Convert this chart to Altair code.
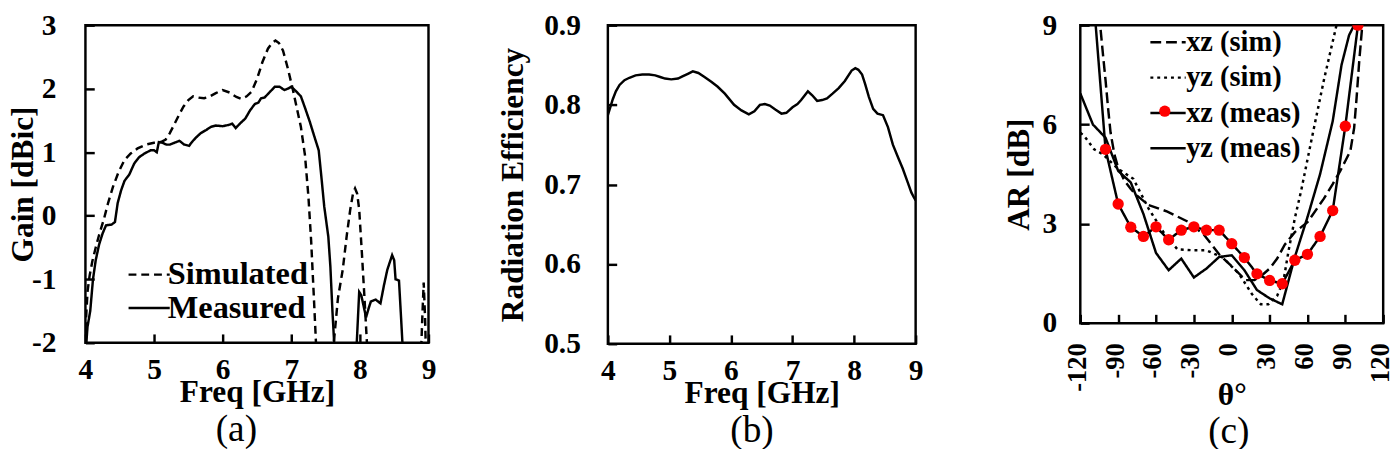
import altair as alt
import pandas as pd

FONT = "Liberation Serif"
BLACK = "#000000"
LW = 2.5
TICK = 9

# ---------------- panel (a): gain ----------------
sim_freq = [4.0, 4.03, 4.06, 4.1, 4.15, 4.2, 4.27, 4.33, 4.4, 4.48, 4.57, 4.66, 4.76, 4.88, 5.0,
            5.1, 5.17, 5.23, 5.3, 5.37, 5.43, 5.5, 5.57, 5.65, 5.73, 5.8, 5.9, 6.0, 6.1, 6.2,
            6.27, 6.35, 6.42, 6.5, 6.58, 6.66, 6.72, 6.77, 6.82, 6.88, 6.95, 7.02, 7.08, 7.14,
            7.2, 7.25, 7.29, 7.33, 7.36, 7.45, 7.55, 7.62, 7.68, 7.75, 7.81, 7.86, 7.9, 7.93,
            7.96, 7.99, 8.03, 8.07, 8.1, 8.13, 8.3, 8.6, 8.88, 8.91, 8.93, 8.95, 8.97, 9.0]
sim_gain = [-1.8, -1.2, -0.95, -0.72, -0.5, -0.3, -0.05, 0.2, 0.45, 0.68, 0.88, 0.98, 1.06, 1.12, 1.15,
            1.16, 1.2, 1.3, 1.45, 1.6, 1.72, 1.82, 1.88, 1.86, 1.85, 1.87, 1.93, 1.98, 1.94, 1.87,
            1.84, 1.88, 1.95, 2.15, 2.42, 2.63, 2.72, 2.76, 2.72, 2.6, 2.32, 2.0, 1.7, 1.4,
            0.95, 0.3, -0.4, -1.3, -2.0, -3.0, -3.0, -2.0, -1.3, -0.85, -0.3, 0.1, 0.35, 0.43,
            0.35, 0.1, -0.6, -1.35, -1.95, -2.5, -3.0, -3.0, -2.5, -1.6, -1.05, -1.6, -2.5, -3.0]
meas_freq = [4.0, 4.03, 4.07, 4.11, 4.15, 4.2, 4.25, 4.3, 4.38, 4.43, 4.47, 4.52, 4.57, 4.64, 4.71,
             4.78, 4.86, 4.95, 5.0, 5.04, 5.07, 5.12, 5.18, 5.23, 5.3, 5.37, 5.44, 5.51, 5.56,
             5.61, 5.68, 5.76, 5.83, 5.9, 6.0, 6.09, 6.14, 6.19, 6.26, 6.33, 6.4, 6.47, 6.52,
             6.56, 6.61, 6.68, 6.76, 6.83, 6.9, 6.95, 7.0, 7.07, 7.14, 7.2, 7.27, 7.33, 7.4,
             7.44, 7.48, 7.54, 7.57, 7.6, 7.63, 7.7, 7.9, 7.95, 7.99, 8.02, 8.06, 8.09, 8.13,
             8.16, 8.23, 8.3, 8.35, 8.4, 8.47, 8.5, 8.52, 8.57, 8.6, 8.62, 8.66, 9.0]
meas_gain = [-2.2, -1.75, -1.5, -1.0, -0.7, -0.45, -0.28, -0.15, -0.14, -0.1, 0.2, 0.4, 0.55, 0.65, 0.82,
             0.92, 0.98, 1.03, 1.03, 1.0, 1.16, 1.15, 1.12, 1.12, 1.15, 1.18, 1.12, 1.1, 1.17,
             1.23, 1.3, 1.35, 1.4, 1.42, 1.41, 1.43, 1.45, 1.38, 1.46, 1.53, 1.66, 1.76, 1.78,
             1.85, 1.86, 1.94, 2.03, 2.03, 1.98, 2.0, 2.03, 1.96, 1.88, 1.7, 1.48, 1.27, 1.03,
             0.6, 0.15, -0.33, -0.8, -1.5, -2.1, -3.0, -3.0, -2.1, -1.2, -1.25, -1.45, -1.6, -1.45,
             -1.35, -1.32, -1.38, -1.1, -0.85, -0.62, -0.7, -1.0, -1.02, -1.6, -2.0, -3.0, -3.0]
gain_series = ["Simulated", "Measured"]
gain_labels = [-2, -1, 0, 1, 2, 3]
freq_labels = [4, 5, 6, 7, 8, 9]

# ---------------- panel (b): radiation efficiency ----------------
eff_freq = [4.0, 4.04, 4.08, 4.13, 4.19, 4.27, 4.35, 4.45, 4.56, 4.67, 4.77, 4.85, 4.93, 5.03, 5.14,
            5.22, 5.3, 5.38, 5.47, 5.57, 5.68, 5.78, 5.9, 6.05, 6.17, 6.29, 6.38, 6.47, 6.55, 6.63,
            6.72, 6.82, 6.9, 7.0, 7.08, 7.14, 7.2, 7.25, 7.32, 7.4, 7.48, 7.56, 7.65, 7.75, 7.85,
            7.96, 8.02, 8.07, 8.13, 8.18, 8.24, 8.31, 8.38, 8.47, 8.55, 8.63, 8.72, 8.79, 8.87,
            8.93, 8.97, 9.0]
eff_val = [0.787, 0.797, 0.807, 0.817, 0.825, 0.831, 0.834, 0.837, 0.838, 0.838, 0.837, 0.835, 0.833,
           0.832, 0.833, 0.836, 0.839, 0.842, 0.84, 0.835, 0.829, 0.823, 0.814, 0.8, 0.793, 0.788,
           0.792, 0.8, 0.801, 0.799, 0.794, 0.789, 0.79, 0.797, 0.801, 0.806, 0.812, 0.817, 0.812,
           0.805, 0.806, 0.808, 0.814, 0.821, 0.83, 0.843, 0.846, 0.844, 0.838, 0.826, 0.81, 0.795,
           0.789, 0.787, 0.772, 0.75, 0.733, 0.72, 0.703, 0.69, 0.684, 0.68]
eff_labels = [0.5, 0.6, 0.7, 0.8, 0.9]

# ---------------- panel (c): axial ratio ----------------
xz_sim_theta = [-106, -104, -102, -100, -98, -96, -93, -90, -85, -80, -75, -66, -51, -35, -22, -10, 1,
                11, 18, 24, 30, 36, 42, 50, 60, 73, 80, 86, 90, 94, 97, 99, 101, 103, 105]
xz_sim_ar = [9.8, 8.9, 8.1, 7.34, 6.5, 5.75, 5.1, 4.7, 4.3, 4.05, 3.85, 3.57, 3.37, 3.07, 2.67, 2.08, 1.68,
             1.3, 1.3, 1.45, 1.65, 1.95, 2.37, 2.75, 3.05, 3.76, 4.2, 4.6, 4.9, 5.2, 5.9, 6.84, 7.9, 8.8, 9.8]
yz_sim_theta = [-120, -117, -109, -102, -90, -78, -66, -53, -43, -30, -20, -7, 6, 16, 23, 29, 36, 41,
                45, 50, 55, 63, 73, 83, 86]
yz_sim_ar = [5.75, 5.66, 5.25, 5.1, 4.66, 4.36, 3.47, 2.68, 2.23, 2.2, 2.2, 1.98, 1.48, 0.88, 0.57, 0.57,
             0.83, 1.28, 2.18, 3.17, 4.0, 5.5, 7.34, 9.0, 9.6]
xz_meas_theta = [-110, -100, -90, -80, -70, -60, -50, -40, -30, -20, -10, 0, 10, 20, 30, 40, 50, 60,
                 70, 80, 90, 100]
xz_meas_ar = [10.05, 5.25, 3.6, 2.9, 2.62, 2.91, 2.52, 2.81, 2.91, 2.81, 2.81, 2.4, 1.98, 1.49, 1.29,
              1.19, 1.9, 2.08, 2.62, 3.4, 5.95, 9.0]
yz_meas_theta = [-120, -110, -100, -90, -80, -70, -60, -50, -40, -30, -20, -10, 0, 10, 20, 30, 40, 50,
                 60, 70, 80, 87, 93, 97, 100]
yz_meas_ar = [6.94, 6.0, 5.6, 4.6, 4.25, 3.3, 2.12, 1.6, 1.95, 1.38, 1.65, 2.0, 2.05, 1.6, 1.0, 0.75,
              0.57, 2.0, 3.2, 4.5, 6.1, 7.8, 8.7, 9.0, 9.3]
ar_series = ["xz (sim)", "yz (sim)", "xz (meas)", "yz (meas)"]
theta_labels = [-120, -90, -60, -30, 0, 30, 60, 90, 120]
ar_labels = [0, 3, 6, 9]

# ---------------- tables ----------------
gain_df = pd.concat([
    pd.DataFrame({"freq": sim_freq, "gain": sim_gain, "series": gain_series[0], "o": range(len(sim_freq))}),
    pd.DataFrame({"freq": meas_freq, "gain": meas_gain, "series": gain_series[1], "o": range(len(meas_freq))}),
])
eff_df = pd.DataFrame({"freq": eff_freq, "eff": eff_val, "o": range(len(eff_freq))})
ar_df = pd.concat([
    pd.DataFrame({"theta": xz_sim_theta, "ar": xz_sim_ar, "series": ar_series[0]}),
    pd.DataFrame({"theta": yz_sim_theta, "ar": yz_sim_ar, "series": ar_series[1]}),
    pd.DataFrame({"theta": xz_meas_theta, "ar": xz_meas_ar, "series": ar_series[2]}),
    pd.DataFrame({"theta": yz_meas_theta, "ar": yz_meas_ar, "series": ar_series[3]}),
])
ar_df["o"] = ar_df["theta"]
pts_df = pd.DataFrame({"theta": xz_meas_theta, "ar": xz_meas_ar, "marker": "xz (meas)"})

# axes drawn inward: axis moved inside by the tick length, ticks pointing back to the frame
LABEL = dict(labelFont=FONT, labelFontWeight="bold", labelColor=BLACK,
             titleFont=FONT, titleFontSize=32, titleFontWeight="bold", titleColor=BLACK,
             ticks=True, tickSize=TICK, tickWidth=LW, tickColor=BLACK, tickOpacity=1,
             offset=-TICK, zindex=2,
             domain=False, grid=False, labelOverlap=False,
             labelFlush=False, labelExpr="toString(datum.value)")


def caption(text, dx, offset):
    return alt.TitleParams(text, orient="bottom", font=FONT, fontSize=38, fontWeight="normal",
                           color=BLACK, anchor="middle", dx=dx, offset=offset)


# ---------------- chart (a) ----------------
WA, HA = 350, 324
xa = alt.X("freq:Q", scale=alt.Scale(domain=[4, 9], nice=False, zero=False),
           axis=alt.Axis(values=freq_labels, title="Freq [GHz]", labelFontSize=30, labelPadding=12,
                         titlePadding=-7, **LABEL))
ya = alt.Y("gain:Q", scale=alt.Scale(domain=[-2, 3], nice=False, zero=False),
           axis=alt.Axis(values=gain_labels, title="Gain [dBic]", labelFontSize=30, labelPadding=30,
                         titlePadding=-8, **LABEL))
lines_a = alt.Chart(gain_df).mark_line(clip=True, strokeWidth=LW, color=BLACK).encode(
    x=xa, y=ya, order="o:Q", detail="series:N",
    strokeDash=alt.StrokeDash("series:N",
        scale=alt.Scale(domain=gain_series, range=[[8, 5], [1, 0]]),
        legend=alt.Legend(title=None, orient="none", legendX=38, legendY=238,
                          symbolType="M-1,0L3,0", symbolSize=441, symbolStrokeWidth=LW,
                          symbolStrokeColor=BLACK, labelOffset=13, rowPadding=-1,
                          labelFont=FONT, labelFontSize=33, labelFontWeight="bold",
                          labelColor=BLACK)))
chart_a = lines_a.properties(width=WA, height=HA, title=caption("(a)", -21, 4))

# ---------------- chart (b) ----------------
WB, HB = 314, 325
xb = alt.X("freq:Q", scale=alt.Scale(domain=[4, 9], nice=False, zero=False),
           axis=alt.Axis(values=freq_labels, title="Freq [GHz]", labelFontSize=30, labelPadding=12,
                         titlePadding=-7, **LABEL))
yb = alt.Y("eff:Q", scale=alt.Scale(domain=[0.5, 0.9], nice=False, zero=False),
           axis=alt.Axis(values=eff_labels, title="Radiation Efficiency", labelFontSize=30,
                         labelPadding=28, titlePadding=15, **LABEL))
line_b = alt.Chart(eff_df).mark_line(clip=True, strokeWidth=LW, color=BLACK).encode(
    x=xb, y=yb, order="o:Q")
chart_b = line_b.properties(width=WB, height=HB, title=caption("(b)", -10, 4))

# ---------------- chart (c) ----------------
WC, HC = 309, 304
xc = alt.X("theta:Q", scale=alt.Scale(domain=[-120, 120], nice=False, zero=False),
           axis=alt.Axis(values=theta_labels, title="θ°", labelAngle=270, labelFontSize=27,
                         labelPadding=20, labelOffset=-3, titlePadding=-11, **LABEL))
yc = alt.Y("ar:Q", scale=alt.Scale(domain=[0, 9], nice=False, zero=False),
           axis=alt.Axis(values=ar_labels, title="AR [dB]", labelFontSize=30, labelPadding=24,
                         titlePadding=7, **LABEL))
lines_c = alt.Chart(ar_df).mark_line(clip=True, strokeWidth=LW, color=BLACK).encode(
    x=xc, y=yc, order="o:Q", detail="series:N",
    strokeDash=alt.StrokeDash("series:N",
        scale=alt.Scale(domain=ar_series, range=[[11, 5], [3, 4], [1, 0], [1, 0]]),
        legend=alt.Legend(title=None, orient="none", legendX=66, legendY=3,
                          symbolType="M-1,0L3,0", symbolSize=324, symbolStrokeWidth=LW,
                          symbolStrokeColor=BLACK, labelOffset=13, rowPadding=6,
                          labelFont=FONT, labelFontSize=29, labelFontWeight="bold",
                          labelColor=BLACK)))
pts_c = alt.Chart(pts_df).mark_circle(clip=True, size=133, opacity=1).encode(
    x=xc, y=yc,
    fill=alt.Fill("marker:N", scale=alt.Scale(range=["#ff0000"]),
                  legend=alt.Legend(title=None, orient="none", legendX=80.2, legendY=81.7,
                                    symbolType="circle", symbolSize=133, symbolStrokeWidth=0,
                                    symbolOpacity=1, labelExpr="''", labelFontSize=1)))
spacer_c = alt.Chart(pd.DataFrame({"s": [0]})).mark_text(
    text=" ", opacity=0, fontSize=2, baseline="top").encode(x=alt.value(10), y=alt.value(-18))
chart_c = alt.layer(lines_c, pts_c, spacer_c).properties(
    width=WC, height=HC, title=caption("(c)", -3, 3))

left_pair = alt.hconcat(chart_a, chart_b, spacing=59).resolve_scale(
    strokeDash="independent", fill="independent")
chart = alt.hconcat(left_pair, chart_c, spacing=78).resolve_scale(
    strokeDash="independent", fill="independent"
).properties(
    padding={"left": -3, "top": -7, "right": -3, "bottom": 0}, background="white"
).configure_view(stroke=BLACK, strokeWidth=LW)

chart.save("out.html", embed_options={"renderer": "svg", "actions": False})
